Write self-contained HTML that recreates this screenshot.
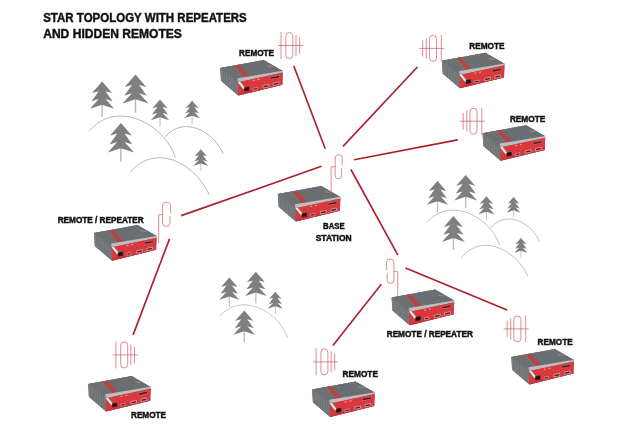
<!DOCTYPE html>
<html><head><meta charset="utf-8"><style>
html,body{margin:0;padding:0;background:#fff;}
svg{display:block;will-change:transform;}
.hill{fill:none;stroke:#b4b4b4;stroke-width:1;}
.tree{fill:#7f7f7f;}
.trunk{fill:none;stroke:#b8b8b8;stroke-width:1.5;}
.link{stroke:#ad1f29;stroke-width:1.65;fill:none;}
.ant{fill:none;stroke:#c8404c;stroke-width:0.6;}
text{font-family:"Liberation Sans",sans-serif;font-weight:bold;fill:#111;stroke:#111;}
</style></head><body>
<svg width="620" height="433" viewBox="0 0 620 433">
<defs>
<g id="dev">
  <path d="M0,0 L43.5,-8 L62.6,3 L62.1,16.7 L18,27.6 L0.8,12.8 Z" fill="#66696d"/>
  <!-- left face -->
  <path d="M0,0 L17.3,13.6 L18,27.6 L0.8,12.8 Z" fill="#7a7d80"/>
  <path d="M2.6,2.3 L3.2,14.8 M5.2,4.1 L5.8,17 M7.8,6 L8.4,19.2 M10.4,7.9 L11,21.4 M13,9.7 L13.6,23.6 M15.4,11.3 L16,25.6" stroke="#64676a" stroke-width="0.6" fill="none"/>
  <!-- top face -->
  <path d="M0,0 L43.5,-8 L62.6,3 L17.3,13.6 Z" fill="#696c70"/>
  <path d="M0,0 L14.6,-2.6 L24.2,10 L17.3,13.6 Z" fill="#707376"/>
  <path d="M3,-0.5 L17.5,11 M6.5,-1.1 L19.5,10.4 M10,-1.8 L21.5,9.6" stroke="#54575a" stroke-width="0.6" fill="none" stroke-dasharray="0.7 0.7"/>
  <path d="M24,-4.4 L34,8 M28,-5.1 L39,7 M32,-5.9 L44,6 M36,-6.6 L49,5 M40,-7.3 L54,4" stroke="#85888c" stroke-width="0.6" fill="none" stroke-dasharray="0.7 0.7"/>
  <!-- red stripe on top -->
  <path d="M14.6,-2.6 L18.8,-3.4 L30,8.8 L24.2,10 Z" fill="#b8474a"/>
  <path d="M16,-2.7 L26,9.4 M17.6,-3 L28,9" stroke="#9a3a3d" stroke-width="0.5" stroke-dasharray="0.7 0.7"/>
  <!-- logo -->
  <path d="M46.6,-2.4 L52.4,-1.4" stroke="#9a9da0" stroke-width="0.7"/>
  <!-- chamfer -->
  <path d="M17.2,10.3 L62.6,2.8 L62.6,4.8 L17.6,14.4 Z" fill="#babec1"/>
  <!-- front face -->
  <path d="M17.6,14.2 L62.6,4.6 L62.1,16.7 L18,27.6 Z" fill="#db383e"/>
  <path d="M18,25.5 L62.2,14.8 L62.1,16.7 L18,27.6 Z" fill="#c9343a"/>
  <!-- display -->
  <path d="M50.3,9.2 L59.3,7.5 L59.3,9.5 L50.3,11.2 Z" fill="#2e1516" stroke="#e89a9a" stroke-width="0.4"/>
  <!-- antenna connector -->
  <path d="M19,14.3 L23.5,19.9" stroke="#8a8078" stroke-width="3" stroke-linecap="round"/>
  <path d="M19,14.3 L23.5,19.9" stroke="#ece6dc" stroke-width="2" stroke-linecap="round"/>
  <!-- RJ45 -->
  <path d="M24.2,19.7 L28.8,18.9 L28.8,22.3 L24.2,23.1 Z" fill="#161616" stroke="#3a1a1a" stroke-width="0.6" stroke-linejoin="round"/>
  <!-- USB -->
  <path d="M32.8,20.3 L37.2,19.5 L37.2,21.5 L32.8,22.3 Z" fill="#3a1e20" stroke="#f2baba" stroke-width="0.6"/>
  <!-- serial -->
  <path d="M42.7,17.6 L48.5,16.5 L48.5,18.9 L42.7,20 Z" fill="#4a2224" stroke="#f0bcbc" stroke-width="0.7" stroke-linejoin="round"/>
  <path d="M52.9,15.2 L58.7,14.1 L58.7,16.5 L52.9,17.6 Z" fill="#4a2224" stroke="#f0bcbc" stroke-width="0.7" stroke-linejoin="round"/>
  <!-- marks -->
  <path d="M32.6,12.6 L34.4,12.2 M37.4,11.7 L39.2,11.3" stroke="#f6c8c8" stroke-width="0.8"/>
  <path d="M50.5,18 L50.5,18.9 M60.4,15.7 L60.4,16.6" stroke="#f6c8c8" stroke-width="0.6"/>
</g>
<g id="ant">
 <path d="M0,-13.5 V13.5 M15,-10.5 V10.5 M18.6,-8.3 V8.3 M-3,0 H22" />
 <rect x="4.8" y="-13" width="7" height="26" rx="3.5" ry="3.5"/>
</g></defs>
<path d="M89.6,130.7 C116.5,98.9 164.5,123.9 175.4,157.5" class="hill"/>
<path d="M165.1,136.9 C184.1,114.9 214.1,131.6 223.2,153.9" class="hill"/>
<path d="M130.1,172.5 C156.3,141.3 196.1,164.7 209.2,195.0" class="hill"/>
<g transform="translate(102.10,81.50) scale(0.923)"><path d="M0,25 V38.5" class="trunk"/><path d="M0,0 L10.9,12.5 L3.6,10.5 L11.4,21.4 L3.7,19 L13.1,29.4 L0,25.1 L-13.1,29.4 L-3.7,19 L-11.4,21.4 L-3.6,10.5 L-10.9,12.5 Z" class="tree"/></g>
<g transform="translate(135.50,74.50) scale(0.990)"><path d="M0,25 V38.5" class="trunk"/><path d="M0,0 L10.9,12.5 L3.6,10.5 L11.4,21.4 L3.7,19 L13.1,29.4 L0,25.1 L-13.1,29.4 L-3.7,19 L-11.4,21.4 L-3.6,10.5 L-10.9,12.5 Z" class="tree"/></g>
<g transform="translate(160.00,99.60) scale(0.700)"><path d="M0,25 V38.5" class="trunk"/><path d="M0,0 L10.9,12.5 L3.6,10.5 L11.4,21.4 L3.7,19 L13.1,29.4 L0,25.1 L-13.1,29.4 L-3.7,19 L-11.4,21.4 L-3.6,10.5 L-10.9,12.5 Z" class="tree"/></g>
<g transform="translate(192.10,100.70) scale(0.600)"><path d="M0,25 V38.5" class="trunk"/><path d="M0,0 L10.9,12.5 L3.6,10.5 L11.4,21.4 L3.7,19 L13.1,29.4 L0,25.1 L-13.1,29.4 L-3.7,19 L-11.4,21.4 L-3.6,10.5 L-10.9,12.5 Z" class="tree"/></g>
<g transform="translate(120.90,123.10) scale(1.000)"><path d="M0,25 V38.5" class="trunk"/><path d="M0,0 L10.9,12.5 L3.6,10.5 L11.4,21.4 L3.7,19 L13.1,29.4 L0,25.1 L-13.1,29.4 L-3.7,19 L-11.4,21.4 L-3.6,10.5 L-10.9,12.5 Z" class="tree"/></g>
<g transform="translate(200.80,149.20) scale(0.570)"><path d="M0,25 V38.5" class="trunk"/><path d="M0,0 L10.9,12.5 L3.6,10.5 L11.4,21.4 L3.7,19 L13.1,29.4 L0,25.1 L-13.1,29.4 L-3.7,19 L-11.4,21.4 L-3.6,10.5 L-10.9,12.5 Z" class="tree"/></g>
<g transform="translate(437.50,180.90) scale(0.845) translate(-102.10,-81.50)"><path d="M89.6,130.7 C116.5,98.9 164.5,123.9 175.4,157.5" class="hill"/>
<path d="M165.1,136.9 C184.1,114.9 214.1,131.6 223.2,153.9" class="hill"/>
<path d="M130.1,172.5 C156.3,141.3 196.1,164.7 209.2,195.0" class="hill"/>
<g transform="translate(102.10,81.50) scale(0.960)"><path d="M0,25 V38.5" class="trunk"/><path d="M0,0 L10.9,12.5 L3.6,10.5 L11.4,21.4 L3.7,19 L13.1,29.4 L0,25.1 L-13.1,29.4 L-3.7,19 L-11.4,21.4 L-3.6,10.5 L-10.9,12.5 Z" class="tree"/></g>
<g transform="translate(135.50,74.50) scale(1.030)"><path d="M0,25 V38.5" class="trunk"/><path d="M0,0 L10.9,12.5 L3.6,10.5 L11.4,21.4 L3.7,19 L13.1,29.4 L0,25.1 L-13.1,29.4 L-3.7,19 L-11.4,21.4 L-3.6,10.5 L-10.9,12.5 Z" class="tree"/></g>
<g transform="translate(160.00,99.60) scale(0.728)"><path d="M0,25 V38.5" class="trunk"/><path d="M0,0 L10.9,12.5 L3.6,10.5 L11.4,21.4 L3.7,19 L13.1,29.4 L0,25.1 L-13.1,29.4 L-3.7,19 L-11.4,21.4 L-3.6,10.5 L-10.9,12.5 Z" class="tree"/></g>
<g transform="translate(192.10,100.70) scale(0.624)"><path d="M0,25 V38.5" class="trunk"/><path d="M0,0 L10.9,12.5 L3.6,10.5 L11.4,21.4 L3.7,19 L13.1,29.4 L0,25.1 L-13.1,29.4 L-3.7,19 L-11.4,21.4 L-3.6,10.5 L-10.9,12.5 Z" class="tree"/></g>
<g transform="translate(120.90,123.10) scale(1.040)"><path d="M0,25 V38.5" class="trunk"/><path d="M0,0 L10.9,12.5 L3.6,10.5 L11.4,21.4 L3.7,19 L13.1,29.4 L0,25.1 L-13.1,29.4 L-3.7,19 L-11.4,21.4 L-3.6,10.5 L-10.9,12.5 Z" class="tree"/></g>
<g transform="translate(200.80,149.20) scale(0.593)"><path d="M0,25 V38.5" class="trunk"/><path d="M0,0 L10.9,12.5 L3.6,10.5 L11.4,21.4 L3.7,19 L13.1,29.4 L0,25.1 L-13.1,29.4 L-3.7,19 L-11.4,21.4 L-3.6,10.5 L-10.9,12.5 Z" class="tree"/></g></g>
<g transform="translate(229.30,277.40) scale(0.795) translate(-102.10,-81.50)"><path d="M89.6,130.7 C116.5,98.9 164.5,123.9 175.4,157.5" class="hill"/>
<g transform="translate(102.10,81.50) scale(0.960)"><path d="M0,25 V38.5" class="trunk"/><path d="M0,0 L10.9,12.5 L3.6,10.5 L11.4,21.4 L3.7,19 L13.1,29.4 L0,25.1 L-13.1,29.4 L-3.7,19 L-11.4,21.4 L-3.6,10.5 L-10.9,12.5 Z" class="tree"/></g>
<g transform="translate(135.50,74.50) scale(1.030)"><path d="M0,25 V38.5" class="trunk"/><path d="M0,0 L10.9,12.5 L3.6,10.5 L11.4,21.4 L3.7,19 L13.1,29.4 L0,25.1 L-13.1,29.4 L-3.7,19 L-11.4,21.4 L-3.6,10.5 L-10.9,12.5 Z" class="tree"/></g>
<g transform="translate(160.00,99.60) scale(0.728)"><path d="M0,25 V38.5" class="trunk"/><path d="M0,0 L10.9,12.5 L3.6,10.5 L11.4,21.4 L3.7,19 L13.1,29.4 L0,25.1 L-13.1,29.4 L-3.7,19 L-11.4,21.4 L-3.6,10.5 L-10.9,12.5 Z" class="tree"/></g>
<g transform="translate(120.90,123.10) scale(1.040)"><path d="M0,25 V38.5" class="trunk"/><path d="M0,0 L10.9,12.5 L3.6,10.5 L11.4,21.4 L3.7,19 L13.1,29.4 L0,25.1 L-13.1,29.4 L-3.7,19 L-11.4,21.4 L-3.6,10.5 L-10.9,12.5 Z" class="tree"/></g></g>
<path d="M293.7,65.7 L325.2,148.7" class="link"/>
<path d="M417.4,67.0 L343.0,146.4" class="link"/>
<path d="M457.7,139.9 L354.1,159.8" class="link"/>
<path d="M321.4,166.3 L181.2,215.6" class="link"/>
<path d="M350.9,169.5 L397.9,255.2" class="link"/>
<path d="M169.5,238.9 L133.1,334.9" class="link"/>
<path d="M381.3,284.2 L332.9,345.5" class="link"/>
<path d="M405.5,268.0 L507.1,310.0" class="link"/>
<path d="M335.20,166.80 V158.10 A3.50,3.50 0 0 1 342.20,158.10 V165.40 M341.60,168.20 V175.70 A3.20,3.20 0 0 1 335.20,175.70 V166.80" class="ant"/>
<path d="M335.2,166.8 H331.1 V191.5" class="ant"/>
<path d="M162.50,214.60 V206.25 A4.05,4.05 0 0 1 170.60,206.25 V213.20 M170.00,216.00 V222.75 A3.75,3.75 0 0 1 162.50,222.75 V214.60" class="ant"/>
<path d="M162.5,214.6 H158.7 V242.9" class="ant"/>
<path d="M393.90,271.40 V262.70 A3.70,3.70 0 0 0 386.50,262.70 V270.00 M387.10,272.80 V280.00 A3.40,3.40 0 0 0 393.90,280.00 V271.40" class="ant"/>
<path d="M393.9,271.4 H397.7 V295.8" class="ant"/>
<use href="#ant" transform="translate(281.0,45.5) scale(1,1)" class="ant"/>
<use href="#ant" transform="translate(441.3,48.4) scale(-1,1)" class="ant"/>
<use href="#ant" transform="translate(481.8,121.2) scale(-1,1)" class="ant"/>
<use href="#ant" transform="translate(115.9,354.9) scale(1,1)" class="ant"/>
<use href="#ant" transform="translate(316.1,361.9) scale(1,1)" class="ant"/>
<use href="#ant" transform="translate(525.7,328.9) scale(-1,1)" class="ant"/>
<use href="#dev" transform="translate(220.2,68.0)"/>
<use href="#dev" transform="translate(441.9,60.7)"/>
<use href="#dev" transform="translate(482.6,133.2)"/>
<use href="#dev" transform="translate(277.8,194.0)"/>
<use href="#dev" transform="translate(94.0,233.1)"/>
<use href="#dev" transform="translate(391.6,297.6)"/>
<use href="#dev" transform="translate(88.1,384.0)"/>
<use href="#dev" transform="translate(312.1,389.4)"/>
<use href="#dev" transform="translate(511.3,356.9)"/>
<text x="43.2" y="21.8" font-size="13.33" stroke-width="0.45" textLength="203.6" lengthAdjust="spacingAndGlyphs">STAR TOPOLOGY WITH REPEATERS</text>
<text x="43.2" y="37.9" font-size="13.33" stroke-width="0.45" textLength="138.7" lengthAdjust="spacingAndGlyphs">AND HIDDEN REMOTES</text>
<text x="239.1" y="55.5" font-size="9.28" stroke-width="0.48" textLength="34.9" lengthAdjust="spacingAndGlyphs">REMOTE</text>
<text x="469.2" y="48.8" font-size="9.28" stroke-width="0.48" textLength="35.3" lengthAdjust="spacingAndGlyphs">REMOTE</text>
<text x="509.9" y="121.7" font-size="9.28" stroke-width="0.48" textLength="35.3" lengthAdjust="spacingAndGlyphs">REMOTE</text>
<text x="323.1" y="228.6" font-size="9.42" stroke-width="0.48" textLength="21.5" lengthAdjust="spacingAndGlyphs">BASE</text>
<text x="315.7" y="241.3" font-size="9.42" stroke-width="0.48" textLength="36.0" lengthAdjust="spacingAndGlyphs">STATION</text>
<text x="57.7" y="223.2" font-size="9.28" stroke-width="0.48" textLength="86.0" lengthAdjust="spacingAndGlyphs">REMOTE / REPEATER</text>
<text x="386.7" y="337.3" font-size="9.28" stroke-width="0.48" textLength="86.2" lengthAdjust="spacingAndGlyphs">REMOTE / REPEATER</text>
<text x="131.0" y="418.2" font-size="9.28" stroke-width="0.48" textLength="35.0" lengthAdjust="spacingAndGlyphs">REMOTE</text>
<text x="342.5" y="377.4" font-size="9.28" stroke-width="0.48" textLength="35.4" lengthAdjust="spacingAndGlyphs">REMOTE</text>
<text x="537.6" y="344.8" font-size="9.28" stroke-width="0.48" textLength="35.0" lengthAdjust="spacingAndGlyphs">REMOTE</text>
</svg></body></html>
